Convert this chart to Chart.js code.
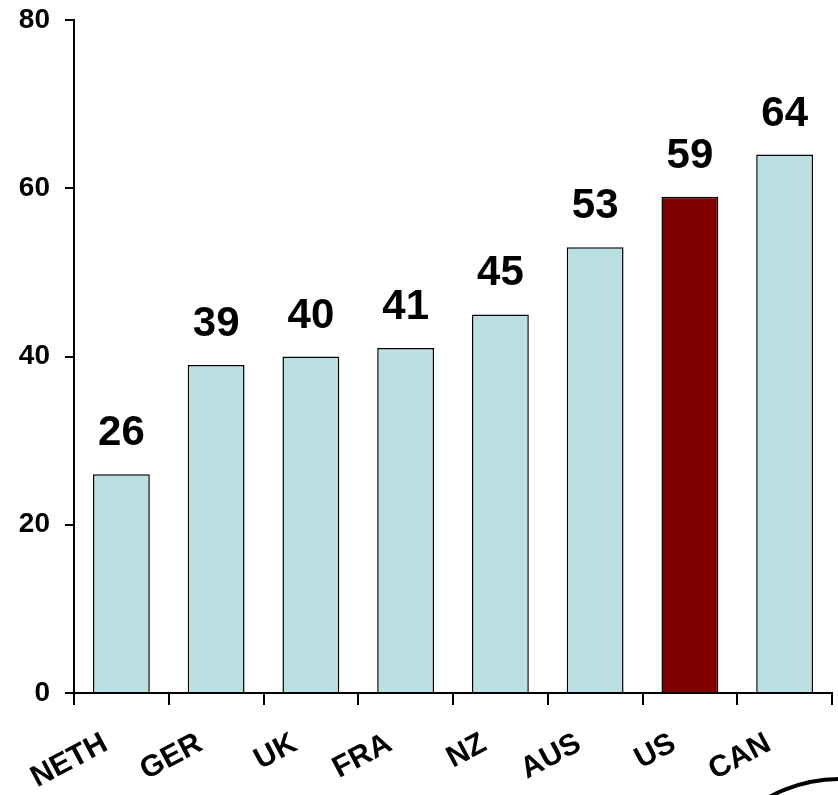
<!DOCTYPE html>
<html>
<head>
<meta charset="utf-8">
<script src="https://cdn.jsdelivr.net/npm/chart.js@4.4.1/dist/chart.umd.min.js"></script>
<style>
  html, body { margin: 0; padding: 0; background: #ffffff; }
  #wrap { width: 838px; height: 795px; position: relative; }
</style>
</head>
<body>
<div id="wrap"><canvas id="chart" width="838" height="795"></canvas></div>
<script>
// Countries, left to right
const categories = ['NETH', 'GER', 'UK', 'FRA', 'NZ', 'AUS', 'US', 'CAN'];
// Percentage per country
const values = [26, 39, 40, 41, 45, 53, 59, 64];
// Value-axis ticks
const yTicks = [0, 20, 40, 60, 80];
// The highlighted country
const highlight = 'US';

const FONT = '"Liberation Sans", Arial, Helvetica, sans-serif';
const BAR = '#BAE0E3';
const BAR_HI = '#800000';

// Bold value printed above each bar
const valueLabels = {
  id: 'valueLabels',
  afterDatasetsDraw(chart) {
    const ctx = chart.ctx;
    const meta = chart.getDatasetMeta(0);
    ctx.save();
    ctx.fillStyle = '#000';
    ctx.font = 'bold 42px ' + FONT;
    ctx.textAlign = 'center';
    ctx.textBaseline = 'alphabetic';
    meta.data.forEach((bar, i) => {
      ctx.fillText(String(chart.data.datasets[0].data[i]), bar.x, bar.y - 29);
    });
    ctx.restore();
  }
};

// Ring outline peeking in at the lower right corner
const cornerRing = {
  id: 'cornerRing',
  afterDraw(chart) {
    const ctx = chart.ctx;
    ctx.save();
    ctx.beginPath();
    ctx.arc(840, 927, 148, 0, Math.PI * 2);
    ctx.lineWidth = 4;
    ctx.strokeStyle = '#000';
    ctx.stroke();
    ctx.restore();
  }
};

new Chart(document.getElementById('chart'), {
  type: 'bar',
  data: {
    labels: categories,
    datasets: [{
      data: values,
      backgroundColor: categories.map(c => c === highlight ? BAR_HI : BAR),
      borderColor: '#000',
      borderWidth: 1.5,
      barPercentage: 0.6,
      categoryPercentage: 1.0
    }]
  },
  options: {
    responsive: false,
    animation: false,
    layout: { padding: { top: 20, right: 6, left: 0, bottom: 0 } },
    plugins: {
      legend: { display: false },
      tooltip: { enabled: false }
    },
    scales: {
      x: {
        offset: true,
        grid: {
          offset: true,
          drawOnChartArea: false,
          drawTicks: true,
          tickLength: 12,
          color: '#000',
          lineWidth: 2
        },
        border: { display: true, color: '#000', width: 2 },
        ticks: {
          autoSkip: false,
          maxRotation: 28,
          minRotation: 28,
          padding: 21,
          labelOffset: -16,
          color: '#000',
          font: { family: FONT, size: 30, weight: 'bold' }
        },
        afterFit(scale) {
          scale.height = 102;
          scale.paddingLeft = 0;
          scale.paddingRight = 0;
        }
      },
      y: {
        min: 0,
        max: 80,
        afterBuildTicks(scale) {
          scale.ticks = yTicks.map(v => ({ value: v }));
        },
        grid: {
          drawOnChartArea: false,
          drawTicks: true,
          tickLength: 9,
          color: '#000',
          lineWidth: 2
        },
        border: { display: true, color: '#000', width: 2 },
        ticks: {
          padding: 15,
          color: '#000',
          font: { family: FONT, size: 28, weight: 'bold' }
        },
        afterFit(scale) {
          scale.width = 74;
          scale.paddingTop = 0;
          scale.paddingBottom = 0;
        }
      }
    }
  },
  plugins: [valueLabels, cornerRing]
});
</script>
</body>
</html>
